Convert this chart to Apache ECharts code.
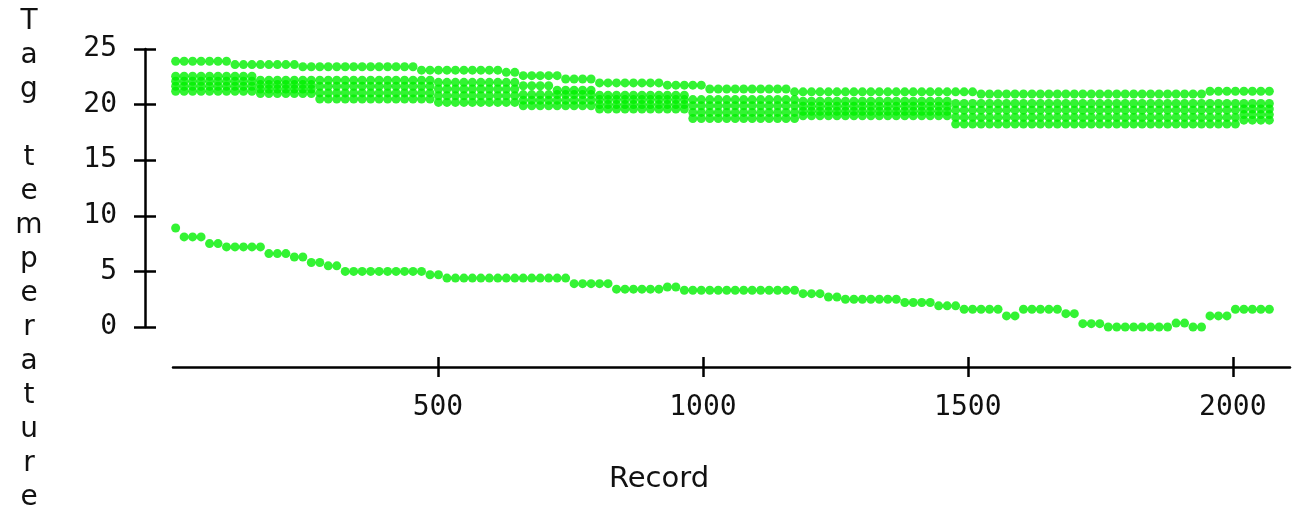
<!DOCTYPE html>
<html>
<head>
<meta charset="utf-8">
<title>Tag temperature</title>
<script src="https://cdn.jsdelivr.net/npm/echarts@6/dist/echarts.min.js"></script>
<style>
  html, body { margin: 0; padding: 0; background: #fff; }
  #chart { width: 1308px; height: 506px; }
</style>
</head>
<body>
<div id="chart"></div>
<script>
// record numbers of the plotted samples
const records = [
  5, 21, 37, 53, 69, 85, 101, 117, 133, 149,
  165, 181, 197, 213, 229, 245, 261, 277, 293, 309,
  325, 341, 357, 373, 389, 405, 421, 437, 453, 469,
  485, 501, 517, 533, 549, 565, 581, 597, 613, 629,
  645, 661, 677, 693, 709, 725, 741, 757, 773, 789,
  805, 821, 837, 853, 869, 885, 901, 917, 933, 949,
  965, 981, 997, 1013, 1029, 1045, 1061, 1077, 1093, 1109,
  1125, 1141, 1157, 1173, 1189, 1205, 1221, 1237, 1253, 1269,
  1285, 1301, 1317, 1333, 1349, 1365, 1381, 1397, 1413, 1429,
  1445, 1461, 1477, 1493, 1509, 1525, 1541, 1557, 1573, 1589,
  1605, 1621, 1637, 1653, 1669, 1685, 1701, 1717, 1733, 1749,
  1765, 1781, 1797, 1813, 1829, 1845, 1861, 1877, 1893, 1909,
  1925, 1941, 1957, 1973, 1989, 2005, 2021, 2037, 2053, 2069
];

// warmest tag (single row on top)
const tagTop = [
  23.9, 23.9, 23.9, 23.9, 23.9, 23.9, 23.9, 23.6, 23.6, 23.6,
  23.6, 23.6, 23.6, 23.6, 23.6, 23.4, 23.4, 23.4, 23.4, 23.4,
  23.4, 23.4, 23.4, 23.4, 23.4, 23.4, 23.4, 23.4, 23.4, 23.1,
  23.1, 23.1, 23.1, 23.1, 23.1, 23.1, 23.1, 23.1, 23.1, 22.9,
  22.9, 22.6, 22.6, 22.6, 22.6, 22.6, 22.3, 22.3, 22.3, 22.3,
  21.95, 21.95, 21.95, 21.95, 21.95, 21.95, 21.95, 21.95, 21.75, 21.75,
  21.75, 21.75, 21.75, 21.4, 21.4, 21.4, 21.4, 21.4, 21.4, 21.4,
  21.4, 21.4, 21.4, 21.15, 21.15, 21.15, 21.15, 21.15, 21.15, 21.15,
  21.15, 21.15, 21.15, 21.15, 21.15, 21.15, 21.15, 21.15, 21.15, 21.15,
  21.15, 21.15, 21.15, 21.15, 21.15, 20.95, 20.95, 20.95, 20.95, 20.95,
  20.95, 20.95, 20.95, 20.95, 20.95, 20.95, 20.95, 20.95, 20.95, 20.95,
  20.95, 20.95, 20.95, 20.95, 20.95, 20.95, 20.95, 20.95, 20.95, 20.95,
  20.95, 20.95, 21.2, 21.2, 21.2, 21.2, 21.2, 21.2, 21.2, 21.2
];

// the thick band: four tags close together
const tagA = [
  22.55, 22.55, 22.55, 22.55, 22.55, 22.55, 22.55, 22.55, 22.55, 22.55,
  22.2, 22.2, 22.2, 22.2, 22.2, 22.2, 22.2, 22.2, 22.2, 22.2,
  22.2, 22.2, 22.2, 22.2, 22.2, 22.2, 22.2, 22.2, 22.2, 22.2,
  22.2, 22.0, 22.0, 22.0, 22.0, 22.0, 22.0, 22.0, 22.0, 22.0,
  22.0, 21.7, 21.7, 21.7, 21.7, 21.3, 21.3, 21.3, 21.3, 21.3,
  20.85, 20.85, 20.85, 20.85, 20.85, 20.85, 20.85, 20.85, 20.85, 20.85,
  20.85, 20.45, 20.45, 20.45, 20.45, 20.45, 20.45, 20.45, 20.45, 20.45,
  20.45, 20.45, 20.45, 20.45, 20.3, 20.3, 20.3, 20.3, 20.3, 20.3,
  20.3, 20.3, 20.3, 20.3, 20.3, 20.3, 20.3, 20.3, 20.3, 20.3,
  20.3, 20.3, 20.1, 20.1, 20.1, 20.1, 20.1, 20.1, 20.1, 20.1,
  20.1, 20.1, 20.1, 20.1, 20.1, 20.1, 20.1, 20.1, 20.1, 20.1,
  20.1, 20.1, 20.1, 20.1, 20.1, 20.1, 20.1, 20.1, 20.1, 20.1,
  20.1, 20.1, 20.1, 20.1, 20.1, 20.1, 20.1, 20.1, 20.1, 20.1
];
const tagB = [
  22.1, 22.1, 22.1, 22.1, 22.1, 22.1, 22.1, 22.1, 22.1, 22.1,
  21.8, 21.8, 21.8, 21.8, 21.8, 21.8, 21.8, 21.65, 21.65, 21.65,
  21.65, 21.65, 21.65, 21.65, 21.65, 21.65, 21.65, 21.65, 21.65, 21.65,
  21.65, 21.4, 21.4, 21.4, 21.4, 21.4, 21.4, 21.4, 21.4, 21.4,
  21.4, 20.9, 20.9, 20.9, 20.9, 20.9, 20.9, 20.9, 20.9, 20.9,
  20.45, 20.45, 20.45, 20.45, 20.45, 20.45, 20.45, 20.45, 20.45, 20.45,
  20.45, 19.9, 19.9, 19.9, 19.9, 19.9, 19.9, 19.9, 19.9, 19.9,
  19.9, 19.9, 19.9, 19.9, 19.85, 19.85, 19.85, 19.85, 19.85, 19.85,
  19.85, 19.85, 19.85, 19.85, 19.85, 19.85, 19.85, 19.85, 19.85, 19.85,
  19.85, 19.85, 19.5, 19.5, 19.5, 19.5, 19.5, 19.5, 19.5, 19.5,
  19.5, 19.5, 19.5, 19.5, 19.5, 19.5, 19.5, 19.5, 19.5, 19.5,
  19.5, 19.5, 19.5, 19.5, 19.5, 19.5, 19.5, 19.5, 19.5, 19.5,
  19.5, 19.5, 19.5, 19.5, 19.5, 19.5, 19.6, 19.6, 19.6, 19.6
];
const tagC = [
  21.65, 21.65, 21.65, 21.65, 21.65, 21.65, 21.65, 21.65, 21.65, 21.65,
  21.4, 21.4, 21.4, 21.4, 21.4, 21.4, 21.4, 21.05, 21.05, 21.05,
  21.05, 21.05, 21.05, 21.05, 21.05, 21.05, 21.05, 21.05, 21.05, 21.05,
  21.05, 20.8, 20.8, 20.8, 20.8, 20.8, 20.8, 20.8, 20.8, 20.8,
  20.8, 20.4, 20.4, 20.4, 20.4, 20.4, 20.4, 20.4, 20.4, 20.4,
  20.0, 20.0, 20.0, 20.0, 20.0, 20.0, 20.0, 20.0, 20.0, 20.0,
  20.0, 19.3, 19.3, 19.3, 19.3, 19.3, 19.3, 19.3, 19.3, 19.3,
  19.3, 19.3, 19.3, 19.3, 19.4, 19.4, 19.4, 19.4, 19.4, 19.4,
  19.4, 19.4, 19.4, 19.4, 19.4, 19.4, 19.4, 19.4, 19.4, 19.4,
  19.4, 19.4, 18.85, 18.85, 18.85, 18.85, 18.85, 18.85, 18.85, 18.85,
  18.85, 18.85, 18.85, 18.85, 18.85, 18.85, 18.85, 18.85, 18.85, 18.85,
  18.85, 18.85, 18.85, 18.85, 18.85, 18.85, 18.85, 18.85, 18.85, 18.85,
  18.85, 18.85, 18.85, 18.85, 18.85, 18.85, 19.1, 19.1, 19.1, 19.1
];
const tagD = [
  21.2, 21.2, 21.2, 21.2, 21.2, 21.2, 21.2, 21.2, 21.2, 21.2,
  21.0, 21.0, 21.0, 21.0, 21.0, 21.0, 21.0, 20.5, 20.5, 20.5,
  20.5, 20.5, 20.5, 20.5, 20.5, 20.5, 20.5, 20.5, 20.5, 20.5,
  20.5, 20.2, 20.2, 20.2, 20.2, 20.2, 20.2, 20.2, 20.2, 20.2,
  20.2, 19.9, 19.9, 19.9, 19.9, 19.9, 19.9, 19.9, 19.9, 19.9,
  19.6, 19.6, 19.6, 19.6, 19.6, 19.6, 19.6, 19.6, 19.6, 19.6,
  19.6, 18.75, 18.75, 18.75, 18.75, 18.75, 18.75, 18.75, 18.75, 18.75,
  18.75, 18.75, 18.75, 18.75, 19.0, 19.0, 19.0, 19.0, 19.0, 19.0,
  19.0, 19.0, 19.0, 19.0, 19.0, 19.0, 19.0, 19.0, 19.0, 19.0,
  19.0, 19.0, 18.25, 18.25, 18.25, 18.25, 18.25, 18.25, 18.25, 18.25,
  18.25, 18.25, 18.25, 18.25, 18.25, 18.25, 18.25, 18.25, 18.25, 18.25,
  18.25, 18.25, 18.25, 18.25, 18.25, 18.25, 18.25, 18.25, 18.25, 18.25,
  18.25, 18.25, 18.25, 18.25, 18.25, 18.25, 18.6, 18.6, 18.6, 18.6
];

// coldest tag (lower row)
const tagLow = [
  8.9, 8.1, 8.1, 8.1, 7.5, 7.5, 7.2, 7.2, 7.2, 7.2,
  7.2, 6.6, 6.6, 6.6, 6.3, 6.3, 5.8, 5.8, 5.5, 5.5,
  5.0, 5.0, 5.0, 5.0, 5.0, 5.0, 5.0, 5.0, 5.0, 5.0,
  4.7, 4.7, 4.4, 4.4, 4.4, 4.4, 4.4, 4.4, 4.4, 4.4,
  4.4, 4.4, 4.4, 4.4, 4.4, 4.4, 4.4, 3.9, 3.9, 3.9,
  3.9, 3.9, 3.4, 3.4, 3.4, 3.4, 3.4, 3.4, 3.6, 3.6,
  3.3, 3.3, 3.3, 3.3, 3.3, 3.3, 3.3, 3.3, 3.3, 3.3,
  3.3, 3.3, 3.3, 3.3, 3.0, 3.0, 3.0, 2.7, 2.7, 2.5,
  2.5, 2.5, 2.5, 2.5, 2.5, 2.5, 2.2, 2.2, 2.2, 2.2,
  1.9, 1.9, 1.9, 1.6, 1.6, 1.6, 1.6, 1.6, 1.0, 1.0,
  1.6, 1.6, 1.6, 1.6, 1.6, 1.2, 1.2, 0.3, 0.3, 0.3,
  0.0, 0.0, 0.0, 0.0, 0.0, 0.0, 0.0, 0.0, 0.35, 0.35,
  0.0, 0.0, 1.0, 1.0, 1.0, 1.6, 1.6, 1.6, 1.6, 1.6
];

const xTicks = [500, 1000, 1500, 2000];
const yTicks = [0, 5, 10, 15, 20, 25];

const dotColor = "#00f000";
const numFont = "DejaVu Sans Mono";
const textFont = "DejaVu Sans";

function toPoints(values) {
  return records.map((r, i) => [r, values[i]]);
}

function dots(name, values) {
  return {
    name: name,
    type: "scatter",
    symbol: "circle",
    symbolSize: 9,
    itemStyle: { color: dotColor },
    silent: true,
    data: toPoints(values)
  };
}

// plain numbers, no thousand separators
function plain(v) {
  return String(v);
}

var myChart = echarts.init(document.getElementById("chart"));
let option = {
  animation: false,
  backgroundColor: "#fff",
  grid: { left: 173, right: 18, top: 49, bottom: 179 },
  graphic: [
    {
      type: "text",
      x: 29,
      y: 5,
      style: {
        text: "T\na\ng\n\nt\ne\nm\np\ne\nr\na\nt\nu\nr\ne",
        fontFamily: textFont,
        fontSize: 28,
        lineHeight: 34,
        textAlign: "center",
        textVerticalAlign: "top",
        fill: "#111"
      }
    },
    {
      type: "text",
      x: 659,
      y: 479,
      style: {
        text: "Record",
        fontFamily: textFont,
        fontSize: 29,
        textAlign: "center",
        textVerticalAlign: "middle",
        fill: "#111"
      }
    }
  ],
  xAxis: [
    {
      type: "value",
      min: 0,
      max: 2108,
      position: "bottom",
      offset: 40,
      splitLine: { show: false },
      axisLine: { onZero: false, lineStyle: { color: "#000", width: 2.5 } },
      axisTick: { customValues: xTicks, length: 10, lineStyle: { color: "#000", width: 2.5 } },
      axisLabel: { customValues: xTicks, formatter: plain, margin: 27, color: "#111", fontFamily: numFont, fontSize: 28 }
    },
    {
      // second copy only for the inner half of the ticks
      type: "value",
      min: 0,
      max: 2108,
      position: "bottom",
      offset: 40,
      splitLine: { show: false },
      axisLine: { show: false, onZero: false },
      axisTick: { customValues: xTicks, inside: true, length: 10, lineStyle: { color: "#000", width: 2.5 } },
      axisLabel: { show: false }
    }
  ],
  yAxis: [
    {
      type: "value",
      min: 0,
      max: 25,
      position: "left",
      offset: 28,
      splitLine: { show: false },
      axisLine: { show: true, onZero: false, lineStyle: { color: "#000", width: 2.5 } },
      axisTick: { show: true, customValues: yTicks, length: 11, lineStyle: { color: "#000", width: 2.5 } },
      axisLabel: { customValues: yTicks, formatter: plain, margin: 28, color: "#111", fontFamily: numFont, fontSize: 28 }
    },
    {
      type: "value",
      min: 0,
      max: 25,
      position: "left",
      offset: 28,
      splitLine: { show: false },
      axisLine: { show: false, onZero: false },
      axisTick: { show: true, customValues: yTicks, inside: true, length: 11, lineStyle: { color: "#000", width: 2.5 } },
      axisLabel: { show: false }
    }
  ],
  series: [
    dots("Tag A", tagA),
    dots("Tag B", tagB),
    dots("Tag C", tagC),
    dots("Tag D", tagD),
    dots("Tag top", tagTop),
    dots("Tag low", tagLow)
  ]
};
myChart.setOption(option);
</script>
</body>
</html>
